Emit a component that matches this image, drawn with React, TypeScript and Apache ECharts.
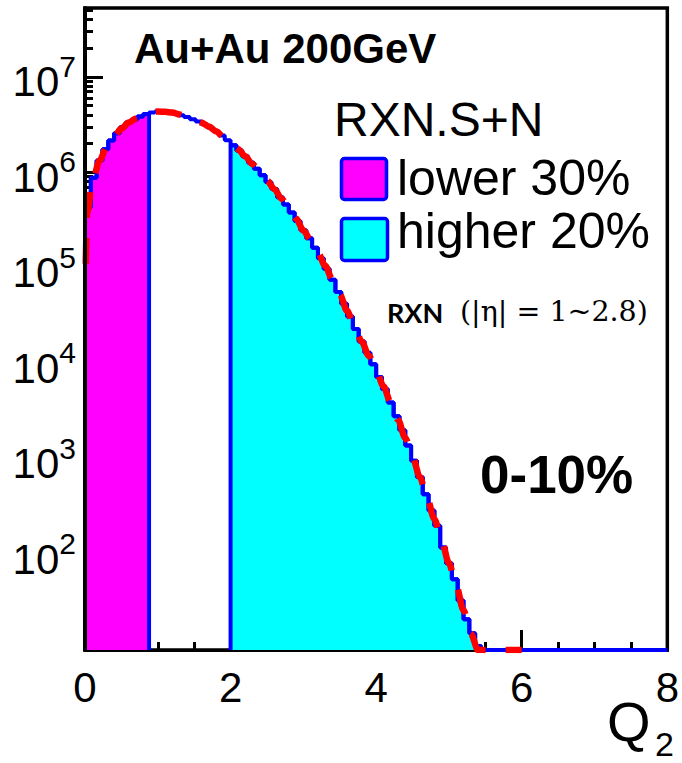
import { useEffect, useRef } from "react";
import * as echarts from "echarts";

// Q2 histogram: 0.08-wide bins starting at Q2 = 0 (bins past the last entry are empty)
const BIN_WIDTH = 0.08;
const X_MIN = 0;
const X_MAX = 8;
const HIST_COUNTS = [
  4.3e5, 8.8e5, 1.33e6, 1.74e6, 2.15e6, 2.56e6, 2.96e6, 3.32e6, 3.58e6, 3.85e6,
  4.07e6, 4.24e6, 4.32e6, 4.31e6, 4.25e6, 4.14e6, 3.97e6, 3.79e6, 3.59e6, 3.41e6,
  3.19e6, 2.94e6, 2.69e6, 2.43e6, 2.17e6, 1.92e6, 1.69e6, 1.47e6, 1.26e6, 1.09e6,
  9.3e5, 7.9e5, 6.7e5, 5.5e5, 4.6e5, 3.8e5, 3.1e5, 2.47e5, 2.04e5, 1.62e5,
  1.26e5, 9.8e4, 7.5e4, 5.6e4, 4.2e4, 3.1e4, 2.29e4, 1.7e4, 1.29e4, 9.8e3,
  7.2e3, 5.4e3, 3.9e3, 2.8e3, 2.0e3, 1.38e3, 955, 646, 427, 288,
  200, 118, 81, 55, 33, 21, 15, 11,
];

// fitted curve, sampled in Q2
const FIT_Q = [
  0.01, 0.03, 0.1, 0.2, 0.3, 0.4, 0.5, 0.6, 0.7, 0.8, 0.9, 1.0, 1.1, 1.2, 1.3, 1.4, 1.5,
  1.6, 1.7, 1.8, 1.9, 2.0, 2.1, 2.2, 2.3, 2.4, 2.5, 2.6, 2.7, 2.8, 2.9, 3.0, 3.1, 3.2,
  3.3, 3.4, 3.5, 3.6, 3.7, 3.8, 3.9, 4.0, 4.1, 4.2, 4.3, 4.4, 4.5, 4.6, 4.7, 4.8, 4.9,
  5.0, 5.1, 5.2, 5.3, 5.4, 5.5, 5.6, 5.7, 5.8, 5.9, 6.0,
];
const FIT_VALUES = [
  1.1e5, 3.8e5, 7.9e5, 1.33e6, 1.86e6, 2.37e6, 2.87e6, 3.32e6, 3.65e6, 3.97e6, 4.22e6,
  4.32e6, 4.3e6, 4.22e6, 4.02e6, 3.79e6, 3.55e6, 3.32e6, 3.01e6, 2.69e6, 2.37e6, 2.05e6,
  1.75e6, 1.47e6, 1.22e6, 1.02e6, 8.2e5, 6.7e5, 5.3e5, 4.26e5, 3.27e5, 2.47e5, 1.95e5,
  1.44e5, 1.05e5, 7.5e4, 5.3e4, 3.55e4, 2.45e4, 1.7e4, 1.2e4, 8.5e3, 5.75e3, 3.9e3,
  2.57e3, 1.66e3, 1.05e3, 646, 389, 234, 138, 81, 47, 26, 14.8, 8.1, 4.5, 2.4, 1.26,
  0.66, 0.34, 0.17,
];

// event-class selections in Q2
const LOWER_CUT = 0.88; // lower 30%
const HIGHER_CUT = 2.0; // higher 20%

const Y_MIN = 10;
const Y_MAX = 5.25e7;
const Y_LABELS = [1e2, 1e3, 1e4, 1e5, 1e6, 1e7];
const Y_MAJOR_TICKS = [1e1, 1e2, 1e3, 1e4, 1e5, 1e6, 1e7];

const LEGEND_TITLE = "RXN.S+N";
const LEGEND_LOWER = "lower 30%";
const LEGEND_HIGHER = "higher 20%";
const SYSTEM_LABEL = "Au+Au 200GeV";
const CENTRALITY_LABEL = "0-10%";
const DETECTOR_NAME = "RXN";
const DETECTOR_RANGE = "(|η| = 1~2.8)";

const SANS = "'Liberation Sans', Arial, Helvetica, sans-serif";
const MAGENTA = "#ff00ff";
const CYAN = "#00ffff";
const BLUE = "#0000ff";
const RED = "#ff0000";

const yMinorTicks: number[] = [];
for (const decade of Y_MAJOR_TICKS) {
  for (let m = 2; m <= 9; m++) {
    if (decade * m <= Y_MAX) yMinorTicks.push(decade * m);
  }
}

const binValue = (i: number) => Math.max(i < HIST_COUNTS.length ? HIST_COUNTS[i] : 0, Y_MIN);

// step outline of the histogram between q0 and q1, closed down to the frame minimum
function stepPoints(q0: number, q1: number): number[][] {
  const pts: number[][] = [[q0, Y_MIN]];
  const first = Math.floor(q0 / BIN_WIDTH + 1e-9);
  const last = Math.ceil(q1 / BIN_WIDTH - 1e-9);
  for (let i = first; i < last; i++) {
    const lo = Math.max(i * BIN_WIDTH, q0);
    const hi = Math.min((i + 1) * BIN_WIDTH, q1);
    const v = binValue(i);
    pts.push([lo, v], [hi, v]);
  }
  pts.push([q1, Y_MIN]);
  return pts;
}

const histEnd = HIST_COUNTS.length * BIN_WIDTH;

export default function App() {
  const ref = useRef<HTMLDivElement>(null);

  useEffect(() => {
    if (!ref.current) return;
    const chart = echarts.init(ref.current, undefined, { renderer: "svg" });

    const tickStyle = { color: "#000", width: 3, cap: "butt" as const };
    const logAxisBase = {
      type: "log" as const,
      logBase: 10,
      min: Y_MIN,
      max: Y_MAX,
      position: "left" as const,
      splitLine: { show: false },
      minorTick: { show: false },
      minorSplitLine: { show: false },
    };
    const textBase = { fill: "#000", align: "left" as const, verticalAlign: "middle" as const };

    chart.setOption({
      animation: false,
      backgroundColor: "#ffffff",
      grid: {
        left: 85,
        top: 8,
        right: 6,
        bottom: 113,
        show: true,
        borderColor: "#000",
        borderWidth: 3.5,
        backgroundColor: "transparent",
      },
      xAxis: {
        type: "value",
        min: X_MIN,
        max: X_MAX,
        interval: 2,
        axisLine: { show: true, lineStyle: { color: "#000", width: 3 } },
        axisTick: { show: true, inside: true, length: 20, lineStyle: tickStyle },
        minorTick: { show: true, splitNumber: 4, length: 8, lineStyle: tickStyle },
        splitLine: { show: false },
        axisLabel: { color: "#000", fontSize: 42, fontFamily: SANS, margin: 16 },
      },
      yAxis: [
        {
          ...logAxisBase,
          axisLine: { show: false },
          axisTick: {
            show: true,
            inside: true,
            length: 18,
            customValues: Y_MAJOR_TICKS,
            lineStyle: tickStyle,
          },
          axisLabel: {
            show: true,
            customValues: Y_LABELS,
            margin: 9,
            formatter: (v: number) => `{b|10}{e|${Math.round(Math.log10(v))}}`,
            rich: {
              b: { fontSize: 42, lineHeight: 52, verticalAlign: "bottom", fontFamily: SANS, color: "#000" },
              e: { fontSize: 30, height: 31, verticalAlign: "top", fontFamily: SANS, color: "#000" },
            },
          },
        },
        {
          ...logAxisBase,
          axisLine: { show: false },
          axisTick: { show: true, inside: true, length: 8, customValues: yMinorTicks, lineStyle: tickStyle },
          axisLabel: { show: false },
        },
        {
          ...logAxisBase,
          z: 10,
          axisLine: { show: true, lineStyle: { color: "#000", width: 4 } },
          axisTick: { show: false },
          axisLabel: { show: false },
        },
      ],
      series: [
        {
          name: LEGEND_LOWER,
          type: "line",
          data: stepPoints(X_MIN, LOWER_CUT),
          showSymbol: false,
          silent: true,
          z: 2,
          lineStyle: { color: BLUE, width: 4 },
          areaStyle: { color: MAGENTA, opacity: 1, origin: Y_MIN },
        },
        {
          name: LEGEND_HIGHER,
          type: "line",
          data: stepPoints(HIGHER_CUT, histEnd),
          showSymbol: false,
          silent: true,
          z: 2,
          lineStyle: { color: BLUE, width: 4 },
          areaStyle: { color: CYAN, opacity: 1, origin: Y_MIN },
        },
        {
          name: "all",
          type: "line",
          data: stepPoints(X_MIN, X_MAX),
          showSymbol: false,
          silent: true,
          z: 3,
          lineStyle: { color: BLUE, width: 4 },
        },
        {
          name: "fit",
          type: "line",
          data: FIT_Q.map((q, i) => [q, Math.max(FIT_VALUES[i], Y_MIN)]),
          showSymbol: false,
          silent: true,
          smooth: 0.3,
          smoothMonotone: "x",
          z: 4,
          lineStyle: { color: RED, width: 6.5, type: [26, 20], cap: "butt" },
        },
      ],
      graphic: [
        {
          type: "text",
          x: 134,
          y: 48,
          style: { ...textBase, text: SYSTEM_LABEL, fontSize: 42, fontWeight: "bold", fontFamily: SANS },
        },
        {
          type: "text",
          x: 334,
          y: 119,
          style: { ...textBase, text: LEGEND_TITLE, fontSize: 48, fontFamily: SANS },
        },
        {
          type: "rect",
          shape: { x: 341.5, y: 158.5, width: 45, height: 41, r: 3 },
          style: { fill: MAGENTA, stroke: BLUE, lineWidth: 3.5 },
        },
        {
          type: "rect",
          shape: { x: 341.5, y: 218.5, width: 46, height: 42, r: 3 },
          style: { fill: CYAN, stroke: BLUE, lineWidth: 3.5 },
        },
        {
          type: "text",
          x: 397,
          y: 178,
          style: { ...textBase, text: LEGEND_LOWER, fontSize: 50, fontFamily: SANS },
        },
        {
          type: "text",
          x: 397,
          y: 231,
          style: { ...textBase, text: LEGEND_HIGHER, fontSize: 50, fontFamily: SANS },
        },
        {
          type: "text",
          x: 387,
          y: 312,
          style: { ...textBase, text: DETECTOR_NAME, fontSize: 27, fontWeight: "bold", fontFamily: "Lato, 'Open Sans', sans-serif" },
        },
        {
          type: "text",
          x: 460,
          y: 311,
          style: { ...textBase, text: DETECTOR_RANGE, fontSize: 28.5, fontFamily: "'DejaVu Serif', serif" },
        },
        {
          type: "text",
          x: 480,
          y: 474,
          style: { ...textBase, text: CENTRALITY_LABEL, fontSize: 53, fontWeight: "bold", fontFamily: SANS },
        },
        {
          type: "text",
          x: 607,
          y: 721,
          style: { ...textBase, text: "Q", fontSize: 56, fontFamily: SANS },
        },
        {
          type: "text",
          x: 655,
          y: 744,
          style: { ...textBase, text: "2", fontSize: 34, lineHeight: 26, fontFamily: SANS },
        },
      ],
    });

    return () => chart.dispose();
  }, []);

  return (
    <div
      ref={ref}
      style={{ position: "fixed", left: 0, top: 0, width: 682, height: 763, background: "#fff" }}
    />
  );
}
